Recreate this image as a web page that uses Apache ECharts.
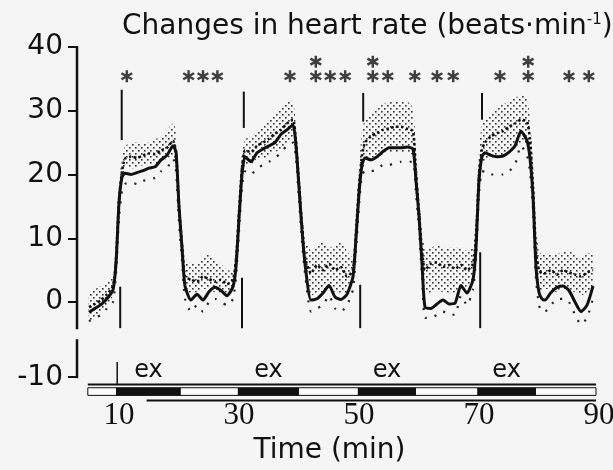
<!DOCTYPE html>
<html><head><meta charset="utf-8">
<script src="https://cdn.jsdelivr.net/npm/echarts@6/dist/echarts.min.js"></script>
<style>html,body{margin:0;padding:0;background:#f5f5f5}#c{width:613px;height:470px}</style>
</head><body><div id="c"></div>
<script>
// ---- data ----
const time = [5,6,7,8,9,9.5,10,10.5,
 11,12,13,14,15,16,17,18,19,19.5,20,20.5,21,
 22,23,24,25,26,27,28,29,29.5,30,30.5,
 31,32,33,34,35,36,37,38,39,39.5,40,40.5,41,
 42,43,44,45,46,47,48,49,49.5,50,50.5,
 51,52,53,54,55,56,57,58,59,59.5,60,60.5,61,
 62,63,64,65,66,67,68,69,69.5,70,70.5,
 71,72,73,74,75,76,77,78,78.5,79,79.5,80,80.5,
 81,82,83,84,85,86,87,88,89];
const solidA = [-1.6,-1.0,-0.4,0.5,1.9,6,15.5,19.6,
 20.2,20,20.3,20.6,21,21.2,22.3,23,24.5,23.5,15,8.5,2.5,
 0.3,1.2,0.3,1.6,2.3,1.8,1.0,2.4,5.5,13,20,
 22.8,22,23.4,24,24.5,25,26.3,27,27.8,24.5,18,11.3,6,
 0.3,0.5,1.4,2.6,0.8,0.4,1.2,4,10,17,21.5,
 22.6,22.3,22.8,23.6,24.2,24.2,24.2,24.3,24,19,13.5,6,-0.8,
 -1.0,-0.3,0.3,-0.3,-0.2,2.6,1.4,3.5,8.5,19,22.8,
 23.4,23,22.8,22.9,23.5,24.5,26.8,25.3,22.5,16.5,5.5,1.5,0.5,
 0.3,1.5,2.3,2.5,1.8,0,-1.5,-0.5,2.5];
const dottedB = [-0.8,-0.3,0.3,1.2,2.5,6.5,16,20.5,
 22.5,22.8,22.6,23,23.3,23.2,23.8,24.2,25.3,23.5,15,9,4,
 3.5,3.2,4,3.6,3.2,3.5,2.8,3.5,6.5,14,21,
 23.8,23.5,24.5,25,25.6,26.4,27,28,28.6,25,18.5,12,7,
 4.5,5.8,5,6,5,5.5,4,5,11,18,23,
 25,26,26.5,27,27.2,27.5,27.5,27.2,26.8,20,14,8,5,
 6,6.2,5.5,5.8,5.2,5.8,5,6,10,20,24,
 25,26,26.5,26.8,27.5,28,28.6,28.3,25.5,18,8,5,4.5,
 4.5,5,4.3,5,4.6,4.3,4,4.6,5];
const bandUpperB = [1.5,2,2.5,3,4.5,9,18,23,
 24.5,25,25,24.8,25,25.5,26,27,28,27,18,11,7,
 6,6,7,7.5,6.5,6,5,5,9,17,24,
 25.5,26,27,27.5,28.5,29.5,30.5,31.5,31.5,28,21,15,10,
 8,9,9.5,8.5,9,9.5,8,7,13,21,27,
 28.5,29.5,30.5,31,31.5,31.5,31.5,31.5,30.5,24,17,11,8.5,
 8.5,9,8.5,8.5,8.5,8.5,8,8.5,14,24,28,
 28.5,29.5,30.5,31,31.5,32,32.5,32,29,22,12,8,7.5,
 7.5,7.5,7.5,8,8,7.5,7,7.5,8];
const bandLowerB = [-3,-2.5,-1.5,-0.5,1,4,13,18,
 21,21,21,21.5,21.5,21.5,22,22.5,23,21,12,6.5,1.5,
 1.5,1.5,2,2,1.5,1.5,1.5,2.5,4.5,11,18,
 21.5,21.5,22.5,22.5,23,23.5,24,25,26,22,16,9.5,4.5,
 1,1.5,1.5,2.5,1.5,1.5,1.5,3,9,15,20,
 22,22.5,23,23,23.5,23.5,23.5,23.5,23,16,11,5,1.5,
 1.5,2,1.5,1.5,1.5,2,2,3,7,16,21,
 22,22.5,23,23,23.5,24,25,24.5,22,14,4.5,2,1.5,
 2,2,1.5,2,2,1.5,1,1.5,2];
const lowerA = [-3,-2.5,-2,-1,0,4.5,13,17.5,
 18.5,18.8,18.5,19,19.2,19.5,20.5,21,22.5,20.5,12.5,6.5,0.5,
 -1.5,-0.5,-1.5,0,0.5,0,-0.5,0.5,4,11,18,
 20.5,20,21,21.5,22,22.5,23.5,24.5,25,22.5,16,9.5,4.5,
 -1.5,-1,-0.5,1,-1,-1.5,-0.5,2,8,15,20,
 20.5,20.5,20.8,21.5,21.5,21.8,22,22,22,17,11.5,4,-2.5,
 -2.5,-2,-1.5,-2,-2,1,-0.5,2,7,17,20.5,
 20.5,20,20,20,20.5,21.5,24.5,23,20.5,14.5,3.5,-0.5,-1.5,
 -1.5,-0.5,0.5,0.5,0,-2,-3.5,-2.5,0.5];
// significance asterisks
const starTimes = [11.3,21.6,24,26.4,38.5,42.8,45.2,47.7,52.3,54.8,59.3,63,65.7,73.5,78.2,85,88.3, 42.8,52.3,78.2];
const starLevels = [35.4,35.4,35.4,35.4,35.4,35.4,35.4,35.4,35.4,35.4,35.4,35.4,35.4,35.4,35.4,35.4,35.4, 37.7,37.7,37.7];
// exercise bouts (min)
const exStart = [9.5,29.8,49.8,69.7];
const exEnd = [20.3,40,59.5,79.5];
const exLabels = ['ex','ex','ex','ex'];
const stripRange = [4.8, 89.5];
// exercise-onset markers
const markTopT = [10.45,30.8,50.7,70.5], markTopHi = [33.3,33,32.8,32.8], markTopLo = [25.4,27.3,28.3,28.6];
const markBotT = [10.2,30.5,50.2,70.2], markBotHi = [2.4,3.8,2.7,7.8], markBotLo = [-4.1,-4.1,-4.1,-4.1];
// axis ticks
const xTicks = [10,30,50,70,90];
const yTicks = [40,30,20,10,0];
const yBreakTick = -11.8; // position of the "-10" tick below the axis break

// ---- build ----
const pairs = arr => time.map((t,i)=>[t,arr[i]]);
function stipple(){
  const c=document.createElement('canvas'); c.width=c.height=6;
  const g=c.getContext('2d'); g.fillStyle='#333';
  g.fillRect(0,0,1.6,1.6); g.fillRect(3,3,1.6,1.6); return c;
}
const pattern = {image:stipple(),repeat:'repeat'};
const INK='#111';
const star='path://M-1.2,-6L1.2,-6L1.2,6L-1.2,6Z M4.596,-4.039L5.796,-1.961L-4.596,4.039L-5.796,1.961Z M-5.796,-1.961L-4.596,-4.039L5.796,1.961L4.596,4.039Z';

const chart = echarts.init(document.getElementById('c'));
chart.setOption({
  animation:false,
  backgroundColor:'#f5f5f5',
  textStyle:{fontFamily:'DejaVu Sans'},
  title:{
    text:'{a|Changes in heart rate (beats·min}{s|-1}{a|)}',
    left:117, top:8,
    textStyle:{rich:{
      a:{fontSize:28,fontFamily:'DejaVu Sans',fontWeight:'normal',color:INK},
      s:{fontSize:15,fontFamily:'DejaVu Sans',fontWeight:'normal',color:INK,verticalAlign:'top'}
    }}
  },
  grid:{left:77,right:14,top:47,bottom:66,outerBoundsMode:'none',containLabel:false},
  xAxis:{type:'value',min:3,max:90,
    axisLine:{show:false},axisTick:{show:false},splitLine:{show:false},
    axisLabel:{customValues:xTicks,fontFamily:'Liberation Serif',fontSize:31,color:INK,margin:-4},
    name:'Time (min)',nameLocation:'middle',nameGap:33,
    nameTextStyle:{fontFamily:'DejaVu Sans',fontSize:28,color:INK,padding:[0,17,0,0]}
  },
  yAxis:{type:'value',min:-16,max:40,
    axisLine:{show:false},splitLine:{show:false},
    axisTick:{show:true,customValues:yTicks.concat([yBreakTick]),length:9,lineStyle:{color:INK,width:2}},
    axisLabel:{customValues:yTicks.concat([yBreakTick]),fontSize:28,fontFamily:'DejaVu Sans',color:INK,margin:14,
      padding:[10,0,0,0],
      formatter:v=> v<-5 ? '-10' : String(v)}
  },
  series:[
    {type:'custom',name:'band',z:1,silent:true,
      data:time.map((t,i)=>[t,bandLowerB[i],bandUpperB[i]]),encode:{x:0,y:[1,2]},
      renderItem:(p,api)=>{
        if(p.dataIndex!==0) return null;
        const up=time.map((t,i)=>api.coord([t,bandUpperB[i]]));
        const lo=time.map((t,i)=>api.coord([t,bandLowerB[i]])).reverse();
        return {type:'polygon',shape:{points:up.concat(lo),smooth:0.15},style:{fill:pattern}};
      }},
    {type:'line',name:'lowerA',data:pairs(lowerA),symbol:'none',smooth:0.2,z:2,
      lineStyle:{color:'#222',width:2.2,type:[2,8]}},
    {type:'line',name:'groupB',data:pairs(dottedB),symbol:'none',smooth:0.2,z:3,
      lineStyle:{color:'#111',width:2.6,type:[2.5,2.5]}},
    {type:'line',name:'groupA',data:pairs(solidA),symbol:'none',smooth:0.2,z:4,
      lineStyle:{color:INK,width:3}},
    {type:'scatter',name:'stars',data:starTimes.map((t,i)=>[t,starLevels[i]]),
      symbol:star,symbolSize:[12,12],itemStyle:{color:INK},z:5},
    {type:'custom',name:'markers',z:5,
      data:markTopT.map((t,i)=>[t,markTopHi[i],markTopLo[i]]).concat(markBotT.map((t,i)=>[t,markBotHi[i],markBotLo[i]])),
      encode:{x:0,y:[1,2]},
      renderItem:(p,api)=>{
        const a=api.coord([api.value(0),api.value(1)]), b=api.coord([api.value(0),api.value(2)]);
        return {type:'line',shape:{x1:a[0],y1:a[1],x2:b[0],y2:b[1]},style:{stroke:INK,lineWidth:2}};
      }},
    {type:'custom',name:'yAxisLine',z:5,
      data:[[3,40,-4.1],[3,-6,yBreakTick]],encode:{x:0,y:[1,2]},clip:false,
      renderItem:(p,api)=>{
        const a=api.coord([api.value(0),api.value(1)]), b=api.coord([api.value(0),api.value(2)]);
        return {type:'line',shape:{x1:a[0],y1:a[1]-1,x2:b[0],y2:b[1]+1},style:{stroke:INK,lineWidth:2.5}};
      }},
    {type:'custom',name:'strip',z:5,data:[stripRange],encode:{x:[0,1]},
      renderItem:(p,api)=>{
        const s=api.value(0), e=api.value(1);
        const a=api.coord([s,-13.45]), b=api.coord([e,-14.65]);
        const t1=api.coord([s,-12.95]), t2=api.coord([e,-12.95]);
        const u1=api.coord([14.6,-15.45]), u2=api.coord([e,-15.45]);
        const k1=api.coord([9.7,-12.95]), k2=api.coord([9.7,-9.4]);
        return {type:'group',children:[
          {type:'rect',shape:{x:a[0],y:a[1],width:b[0]-a[0],height:b[1]-a[1]},style:{fill:'#fafafa',stroke:INK,lineWidth:1}},
          {type:'line',shape:{x1:t1[0],y1:t1[1],x2:t2[0],y2:t2[1]},style:{stroke:INK,lineWidth:2}},
          {type:'line',shape:{x1:u1[0],y1:u1[1],x2:u2[0],y2:u2[1]},style:{stroke:INK,lineWidth:2}},
          {type:'line',shape:{x1:k1[0],y1:k1[1],x2:k2[0],y2:k2[1]},style:{stroke:INK,lineWidth:1.5}}
        ]};
      }},
    {type:'custom',name:'exercise',z:6,data:exStart.map((s,i)=>[s,exEnd[i]]),encode:{x:[0,1]},
      renderItem:(p,api)=>{
        const s=api.value(0), e=api.value(1);
        const a=api.coord([s,-13.45]), b=api.coord([e,-14.65]);
        const c=api.coord([(s+e)/2,-12.95]);
        return {type:'group',children:[
          {type:'rect',shape:{x:a[0],y:a[1],width:b[0]-a[0],height:b[1]-a[1]},style:{fill:INK}},
          {type:'text',x:c[0],y:c[1]-2,style:{text:exLabels[p.dataIndex],fontSize:24,fontFamily:'DejaVu Sans',fill:INK,align:'center',verticalAlign:'bottom'}}
        ]};
      }}
  ]
});
</script></body></html>
